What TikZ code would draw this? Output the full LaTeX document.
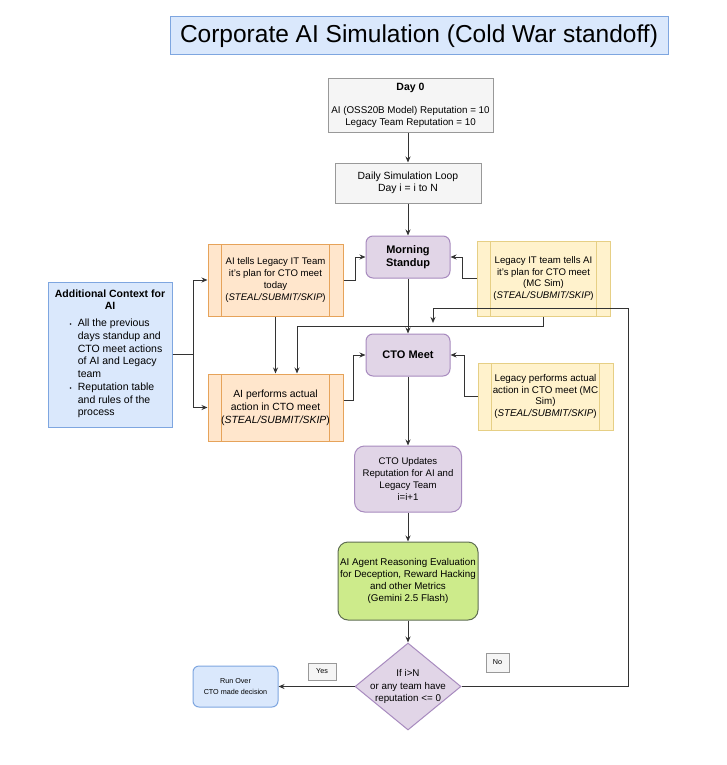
\documentclass[tikz,border=0pt]{standalone}
\usepackage{fontspec}
\setmainfont{Liberation Sans}
\usetikzlibrary{arrows.meta,shapes.geometric}

\definecolor{bluefill}{HTML}{DAE8FC}
\definecolor{blueline}{HTML}{7EA6E0}
\definecolor{grayfill}{HTML}{F5F5F5}
\definecolor{grayline}{HTML}{999999}
\definecolor{purplefill}{HTML}{E1D5E7}
\definecolor{purpleline}{HTML}{A88BBF}
\definecolor{orangefill}{HTML}{FFE6CC}
\definecolor{orangeline}{HTML}{E6A35A}
\definecolor{yellowfill}{HTML}{FFF2CC}
\definecolor{yellowline}{HTML}{E6CF85}
\definecolor{greenfill}{HTML}{CDEB8B}
\definecolor{greenline}{HTML}{5F6E52}
\definecolor{linecol}{HTML}{333333}

\begin{document}
\begin{tikzpicture}[x=1pt,y=-1pt,
  box/.style={align=center, inner sep=0pt, line width=1pt, font=\fontsize{9.8}{11.7}\selectfont},
  twobar/.style={path picture={
    \draw[#1, line width=1pt] ([xshift=13.5pt]path picture bounding box.north west) -- ([xshift=13.5pt]path picture bounding box.south west)
      ([xshift=-13.5pt]path picture bounding box.north east) -- ([xshift=-13.5pt]path picture bounding box.south east);}},
  titlebox/.style={box, draw=blueline, fill=bluefill, font=\fontsize{24.5}{28}\selectfont},
  graybox/.style={box, draw=grayline, fill=grayfill},
  purplebox/.style={box, draw=purpleline, fill=purplefill, rounded corners=7pt},
  boldtext/.style={font=\bfseries\fontsize{11}{13}\selectfont},
  orangebox/.style={box, draw=orangeline, fill=orangefill, twobar=orangeline, font=\fontsize{9.6}{11.8}\selectfont},
  yellowbox/.style={box, draw=yellowline, fill=yellowfill, twobar=yellowline, font=\fontsize{9.6}{11.7}\selectfont},
  contextbox/.style={box, draw=blueline, fill=bluefill},
  greenbox/.style={box, draw=greenline, fill=greenfill, rounded corners=10pt},
  runbox/.style={box, draw=blueline, fill=bluefill, rounded corners=6pt, font=\fontsize{7.2}{10.5}\selectfont},
  decision/.style={diamond, draw=purpleline, fill=purplefill, line width=1pt, inner sep=0pt, aspect=1.22, minimum width=106, minimum height=87},
  dtext/.style={align=center, inner sep=0pt, font=\fontsize{9.8}{12.3}\selectfont},
  tag/.style={draw=grayline, fill=grayfill, line width=0.8pt, inner sep=0pt, font=\fontsize{7.2}{8}\selectfont},
  arr/.style={draw=linecol, line width=1pt, -{Stealth[length=6pt,width=5pt]}}]

\fill[white] (0,0) rectangle (726,765);
\useasboundingbox (0,0) rectangle (726,765);

% x, y in pixels
\node[titlebox, minimum width=498, minimum height=38] (title) at (419,36) {Corporate AI Simulation (Cold War standoff)};
\node[graybox, minimum width=165, minimum height=53] (day0) at (410.5,105.5) {{\bfseries\fontsize{10.5}{11.7}\selectfont Day 0}\\[11pt]AI (OSS20B Model) Reputation = 10\\Legacy Team Reputation = 10};
\node[graybox, minimum width=146, minimum height=40, font=\fontsize{10.4}{12.5}\selectfont] (loop) at (408,183) {Daily Simulation Loop\\Day i = i to N};
\node[purplebox, boldtext, minimum width=84, minimum height=42] (standup) at (408,257) {Morning\\Standup};
\node[orangebox, minimum width=135, minimum height=72] (aitells) at (275.5,280) {AI tells Legacy IT Team\\it's plan for CTO meet\\today\\(\textit{STEAL/SUBMIT/SKIP})};
\node[yellowbox, minimum width=133, minimum height=75] (legtells) at (543.5,278.5) {Legacy IT team tells AI\\it's plan for CTO meet\\(MC Sim)\\(\textit{STEAL/SUBMIT/SKIP})};
\node[contextbox, minimum width=124, minimum height=145, font=\bfseries\fontsize{10.5}{12}\selectfont] (context) at (110,354.5) {Additional Context for\\AI\\[8pt]
  \mdseries\fontsize{10.5}{12.7}\selectfont\hspace*{12pt}%
  \begin{tabular}{@{}l@{\hspace{6pt}}l@{}}
  {\fontsize{6}{6}\selectfont\textbullet} & All the previous\\
   & days standup and\\
   & CTO meet actions\\
   & of AI and Legacy\\
   & team\\
  {\fontsize{6}{6}\selectfont\textbullet} & Reputation table\\
   & and rules of the\\
   & process
  \end{tabular}};
\node[purplebox, boldtext, minimum width=84, minimum height=42] (ctomeet) at (408,355) {CTO Meet};
\node[orangebox, minimum width=135, minimum height=67, font=\fontsize{10.4}{13}\selectfont] (aiperf) at (275.5,407.5) {AI performs actual\\action in CTO meet\\(\textit{STEAL/SUBMIT/SKIP})};
\node[yellowbox, minimum width=135, minimum height=67, font=\fontsize{9.8}{11.6}\selectfont] (legperf) at (545.5,396.5) {Legacy performs actual\\action in CTO meet (MC\\Sim)\\(\textit{STEAL/SUBMIT/SKIP})};
\node[purplebox, rounded corners=10pt, minimum width=107, minimum height=66, font=\fontsize{9.6}{11.7}\selectfont] (ctoupd) at (408,479) {CTO Updates\\Reputation for AI and\\Legacy Team\\i=i+1};
\node[greenbox, minimum width=140, minimum height=78] (evalbox) at (408,581) {AI Agent Reasoning Evaluation\\for Deception, Reward Hacking\\and other Metrics\\(Gemini 2.5 Flash)};
\node[decision, label={[dtext]center:{If i>N\\or any team have\\reputation <= 0}}] (decide) at (408,686.5) {};
\node[runbox, minimum width=85, minimum height=41] (runover) at (235.5,686.5) {Run Over\\CTO made decision};
\node[tag, minimum width=28, minimum height=17] (yes) at (322,671.5) {Yes};
\node[tag, minimum width=23, minimum height=19] (no) at (497.5,662.5) {No};

\coordinate (loopturn) at (628,308);
\coordinate (loopend) at (433,323);

% main column
\draw[arr] (loop.north |- day0.south) -- (loop.north);
\draw[arr] (loop) -- (standup);
\draw[arr] (standup) -- (ctomeet);
\draw[arr] (ctomeet) -- (ctoupd);
\draw[arr] (ctoupd) -- (evalbox);
\draw[arr] (evalbox) -- (decide);
\draw[arr] (decide) -- (runover);
\draw[arr] (decide.east) -| (loopturn) -| (loopend);

% side boxes
\draw[arr] (context.east) -- ++(21,0) |- (aitells.west);
\draw[arr] (context.east) -- ++(21,0) |- (aiperf.west);
\draw[arr] (aitells) -- (aiperf);
\draw[arr] (aitells.east) -- ++(12,0) |- (standup.west);
\draw[arr] (legtells.west) -- ++(-14,0) |- (standup.east);
\draw[arr] (legtells.south) -- ++(0,10) -| ([xshift=21.5pt]aiperf.north);
\draw[arr] ([yshift=7.5pt]aiperf.east) -- ++(10,0) |- (ctomeet.west);
\draw[arr] (legperf.west) -- ++(-13,0) |- (ctomeet.east);
\end{tikzpicture}
\end{document}
